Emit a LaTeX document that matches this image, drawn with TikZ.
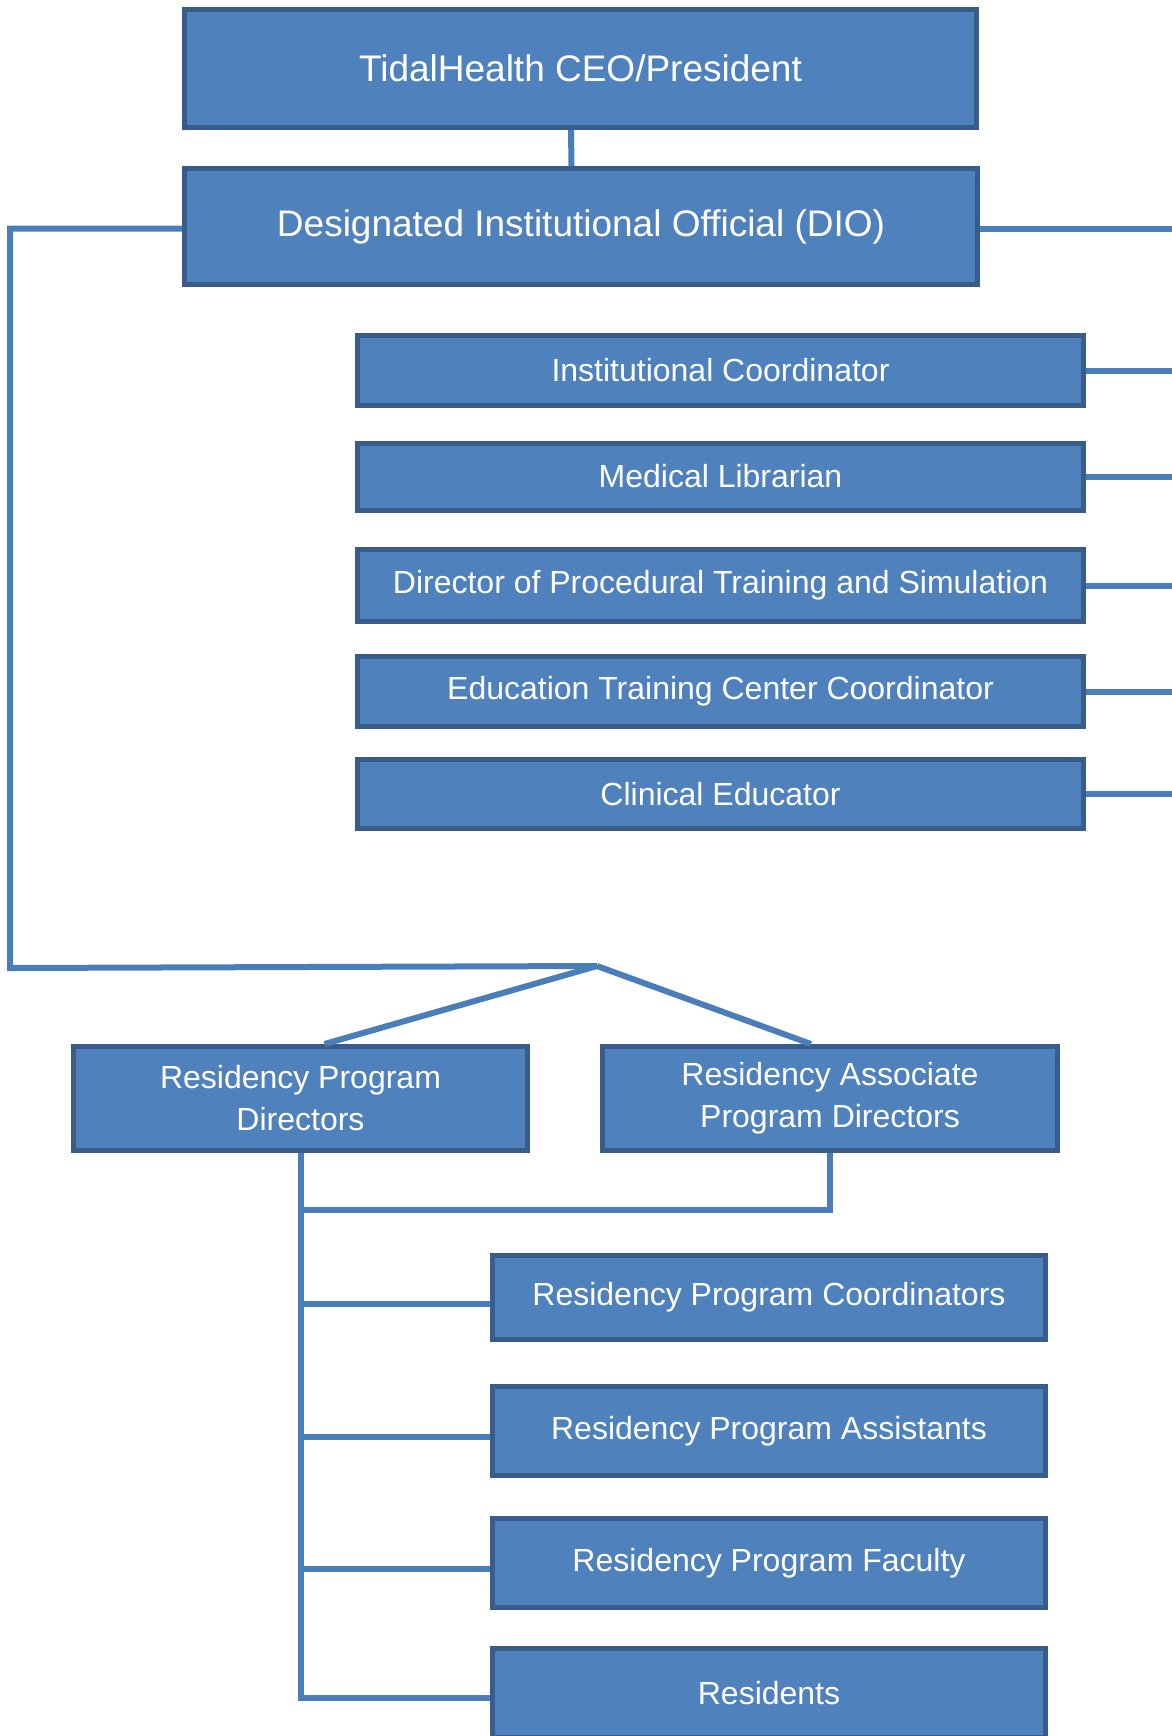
\documentclass[tikz,border=0pt]{standalone}
\usepackage{fontspec}
\setmainfont{Liberation Sans}
\definecolor{boxfill}{HTML}{4F81BD}
\definecolor{boxline}{HTML}{385D8A}
\definecolor{conn}{HTML}{4A7EBB}
\begin{document}
\begin{tikzpicture}[x=0.5pt,y=-0.5pt,
  box/.style={draw=boxline, fill=boxfill, line width=2.5pt, text=white, inner sep=0pt, align=center, font=\fontsize{16}{21}\selectfont},
  bigbox/.style={box, font=\fontsize{18.5}{22}\selectfont},
  link/.style={draw=conn, line width=3pt}]
\useasboundingbox (0,0) rectangle (1172,1736);
\clip (0,0) rectangle (1172,1736);
\fill[white] (0,0) rectangle (1172,1736);
% coordinates
\coordinate (lb) at (10,968);
\coordinate (apex) at (597,966);
\coordinate (join) at (300,1210);
\coordinate (redge) at (1172,0);
% nodes
\node[bigbox, minimum width=396pt, minimum height=59pt] (ceo) at (580.5,68.5) {TidalHealth CEO/President};
\node[bigbox, minimum width=396.5pt, minimum height=58pt] (dio) at (581,226.5) {Designated Institutional Official (DIO)};
\node[box, minimum width=363pt, minimum height=35pt] (ic) at (720.5,370.5) {Institutional Coordinator};
\node[box, minimum width=363pt, minimum height=33.5pt] (ml) at (720.5,476.5) {Medical Librarian};
\node[box, minimum width=363pt, minimum height=36pt] (dpt) at (720.5,585.5) {Director of Procedural Training and Simulation};
\node[box, minimum width=363pt, minimum height=35pt] (etc) at (720.5,691.5) {Education Training Center Coordinator};
\node[box, minimum width=363pt, minimum height=34.5pt] (ce) at (720.5,794) {Clinical Educator};
\node[box, minimum width=227pt, minimum height=52pt] (rpd) at (300.5,1098.5) {Residency Program\\Directors};
\node[box, minimum width=227.5pt, minimum height=52pt] (rapd) at (830,1098.5) {Residency Associate\\Program Directors};
\node[box, minimum width=276.5pt, minimum height=42pt] (rpc) at (769,1297.5) {Residency Program Coordinators};
\node[box, minimum width=276.5pt, minimum height=44.5pt] (rpa) at (769,1431) {Residency Program Assistants};
\node[box, minimum width=276.5pt, minimum height=44.5pt] (rpf) at (769,1563) {Residency Program Faculty};
\node[box, minimum width=276.5pt, minimum height=44.5pt] (res) at (769,1693) {Residents};
% connectors
\draw[link] ([xshift=-4.75pt]ceo.south) -- ([xshift=-4.75pt]dio.north);
\draw[link] ([yshift=-1pt]dio.west) -| (lb) -- (apex);
\draw[link] ([yshift=-1pt]dio.east) -- ([yshift=-1pt]dio.east -| redge);
\foreach \n in {ic,ml,dpt,etc,ce}{
  \draw[link] (\n.east) -- (\n.east -| redge);
}
\draw[link] (apex) -- ([xshift=12pt]rpd.north);
\draw[link] (apex) -- ([xshift=-9.5pt]rapd.north);
\draw[link] (rpd.south) |- ([yshift=-2.5pt]res.west);
\draw[link] (rapd.south) |- (join);
\foreach \n in {rpc,rpa,rpf}{
  \draw[link] ([yshift=-3pt]\n.west -| rpd.south) -- ([yshift=-3pt]\n.west);
}
\end{tikzpicture}
\end{document}
